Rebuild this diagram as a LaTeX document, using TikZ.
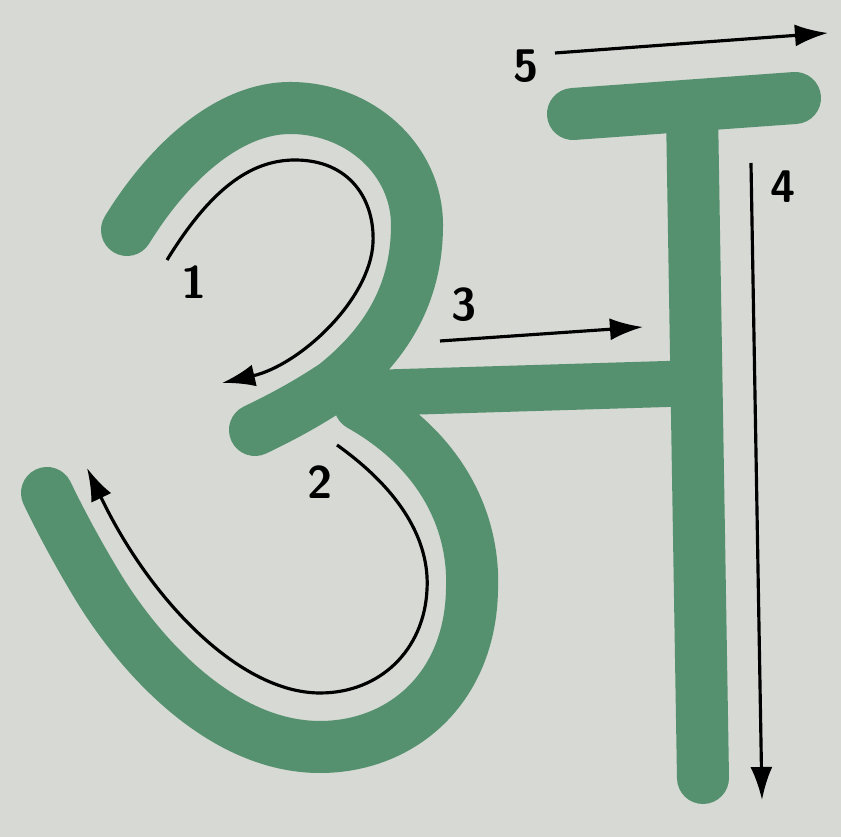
\documentclass[tikz,border=0pt]{standalone}
\usetikzlibrary{arrows.meta}

\definecolor{paper}{RGB}{214,217,212}
\definecolor{leaf}{RGB}{86,145,111}

\begin{document}
\begin{tikzpicture}[x=0.01cm,y=-0.01cm]

\tikzset{glyph/.style={leaf,line width=0.52cm,line cap=round,line join=round}}
\tikzset{guide/.style={black,line width=0.9pt,-{Latex[length=0.33cm,width=0.22cm]}}}
\tikzset{num/.style={black,font=\sffamily\bfseries\fontsize{13}{13}\selectfont,inner sep=0pt}}

\fill[paper] (0,0) rectangle (841,837);
\useasboundingbox (0,0) rectangle (841,837);

\draw[glyph] (127,230) .. controls (170,160) and (230,108) .. (290,108)
    .. controls (360,108) and (417,160) .. (417,225)
    .. controls (417,295) and (385,345) .. (335,385)
    .. controls (305,405) and (280,418) .. (255,430);

\draw[glyph] (360,405) .. controls (440,450) and (475,520) .. (472,590)
    .. controls (470,690) and (400,747) .. (320,747)
    .. controls (230,747) and (150,670) .. (100,590)
    .. controls (78,554) and (60,520) .. (47,493);

\draw[glyph,line width=0.46cm,line cap=butt] (370,393) -- (700,383);
\draw[glyph] (692,110) -- (703,778);
\draw[glyph] (573,114) -- (795,98);

\coordinate (s1) at (167,260);
\coordinate (e1) at (222,383);
\coordinate (s2) at (337,445);
\coordinate (e2) at (87,468);
\coordinate (s3) at (440,341);
\coordinate (e3) at (643,327);
\coordinate (s4) at (751,163);
\coordinate (e4) at (762,800);
\coordinate (s5) at (555,53);
\coordinate (e5) at (828,33);

\draw[guide] (s1) .. controls (210,190) and (250,160) .. (295,160)
    .. controls (350,160) and (375,200) .. (373,243)
    .. controls (370,300) and (300,365) .. (e1);
\draw[guide] (s2) .. controls (400,490) and (430,540) .. (427,590)
    .. controls (424,650) and (380,693) .. (320,693)
    .. controls (240,693) and (150,600) .. (e2);
\draw[guide] (s3) -- (e3);
\draw[guide] (s4) -- (e4);
\draw[guide] (s5) -- (e5);

\path (194,282) node[num] (n1) {1};
\path (320,482) node[num] (n2) {2};
\path (464,305) node[num] (n3) {3};
\path (783,187) node[num] (n4) {4};
\path (526,66) node[num] (n5) {5};

\end{tikzpicture}
\end{document}
